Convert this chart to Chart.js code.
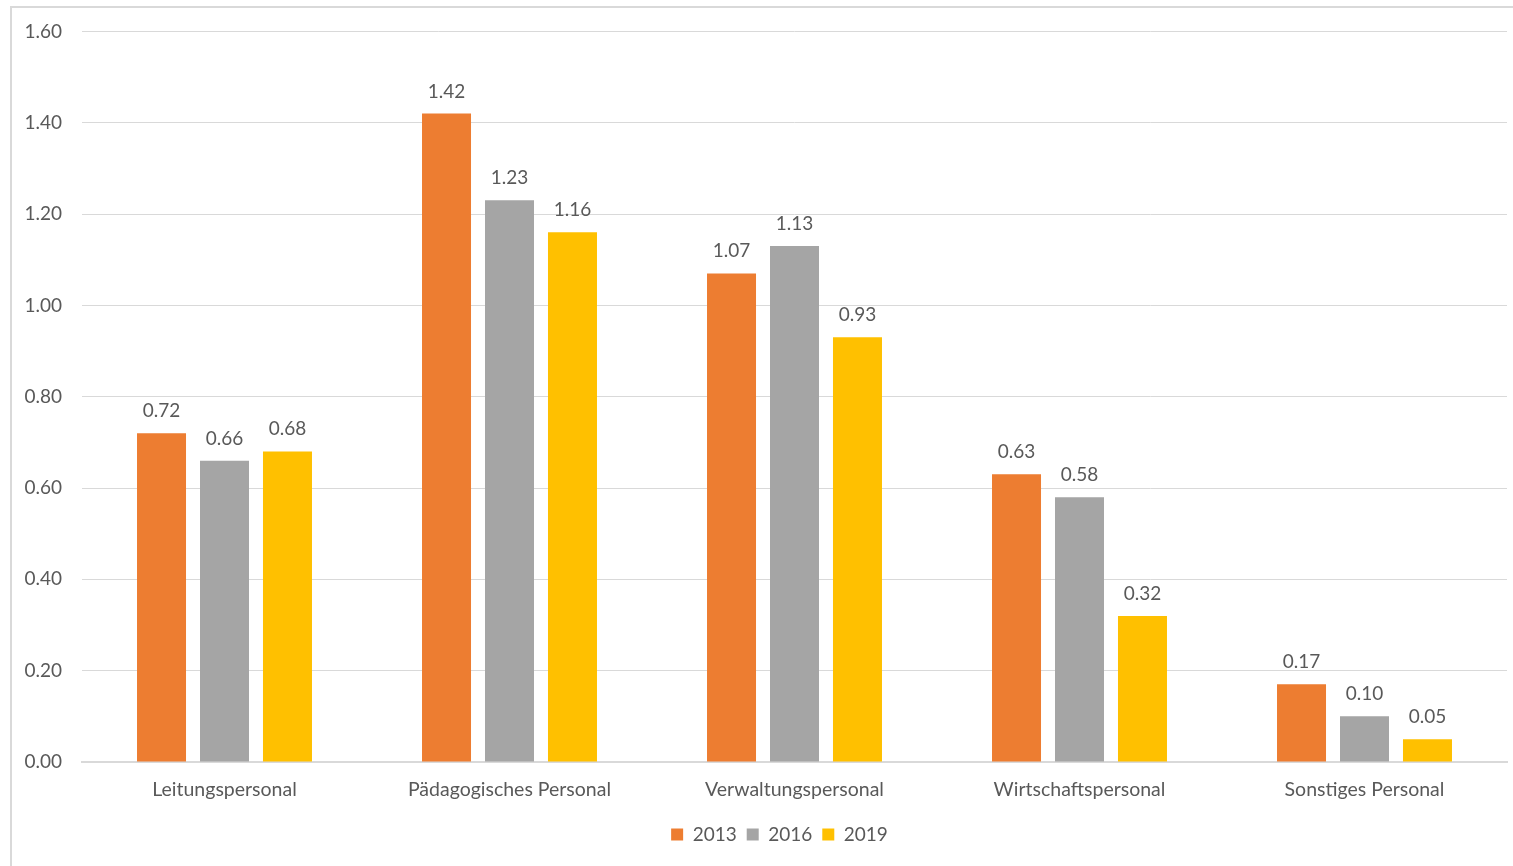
<!DOCTYPE html>
<html>
<head>
<meta charset="utf-8">
<script src="https://cdn.jsdelivr.net/npm/chart.js@4.4.1/dist/chart.umd.min.js"></script>
<style>
  html, body { margin: 0; padding: 0; background: #fff; overflow: hidden; }
  #frame {
    position: absolute; left: 10px; top: 6px;
    width: 1600px; height: 1000px;
    border: 2px solid #d9d9d9; box-sizing: border-box;
  }
  #wrap { position: absolute; left: 12px; top: 0px; width: 1560px; height: 854px; }
</style>
</head>
<body>
<div id="frame"></div>
<div id="wrap"><canvas id="chart"></canvas></div>
<script>
// Personalkategorien und Werte je Erhebungsjahr
const categories = ['Leitungspersonal', 'Pädagogisches Personal', 'Verwaltungspersonal', 'Wirtschaftspersonal', 'Sonstiges Personal'];
const years = ['2013', '2016', '2019'];
const values2013 = [0.72, 1.42, 1.07, 0.63, 0.17];
const values2016 = [0.66, 1.23, 1.13, 0.58, 0.10];
const values2019 = [0.68, 1.16, 0.93, 0.32, 0.05];
const yTicks = [0, 0.2, 0.4, 0.6, 0.8, 1.0, 1.2, 1.4, 1.6];

const colors = ['#ED7D31', '#A5A5A5', '#FFC000'];
const textColor = '#595959';
const gridColor = '#d9d9d9';
const fontFamily = 'Lato, "Noto Sans", sans-serif';

// Wertbeschriftung über jedem Balken
const valueLabels = {
  id: 'valueLabels',
  afterDatasetsDraw(chart) {
    const ctx = chart.ctx;
    ctx.save();
    ctx.font = '19px ' + fontFamily;
    ctx.fillStyle = textColor;
    ctx.textAlign = 'center';
    ctx.textBaseline = 'alphabetic';
    chart.data.datasets.forEach((ds, i) => {
      const meta = chart.getDatasetMeta(i);
      meta.data.forEach((bar, j) => {
        ctx.fillText(ds.data[j].toFixed(2), bar.x, bar.y - 16);
      });
    });
    ctx.restore();
  }
};

new Chart(document.getElementById('chart'), {
  type: 'bar',
  data: {
    labels: categories,
    datasets: [
      { label: years[0], data: values2013, backgroundColor: colors[0] },
      { label: years[1], data: values2016, backgroundColor: colors[1] },
      { label: years[2], data: values2019, backgroundColor: colors[2] }
    ]
  },
  options: {
    responsive: true,
    maintainAspectRatio: false,
    animation: false,
    datasets: { bar: { categoryPercentage: 0.663, barPercentage: 0.778 } },
    layout: { padding: { left: 0, right: 25, top: 16, bottom: 0 } },
    plugins: {
      legend: {
        position: 'bottom',
        labels: {
          boxWidth: 12, boxHeight: 12, padding: 10,
          color: textColor,
          font: { family: fontFamily, size: 19 }
        }
      },
      tooltip: { enabled: false }
    },
    scales: {
      x: {
        grid: { display: false, drawTicks: false },
        border: { display: true, color: gridColor, width: 2 },
        ticks: { color: textColor, padding: 16, font: { family: fontFamily, size: 19.5 }, maxRotation: 0 },
        afterFit(scale) { scale.height = 53; }
      },
      y: {
        min: 0, max: 1.6,
        afterBuildTicks(scale) { scale.ticks = yTicks.map(v => ({ value: v })); },
        grid: { color: gridColor, drawTicks: false },
        border: { display: false },
        ticks: {
          color: textColor, padding: 20,
          font: { family: fontFamily, size: 19 },
          callback: v => Number(v).toFixed(2)
        },
        afterFit(scale) { scale.width = 70; }
      },
      // leerer Randbereich rechts neben der Zeichenfläche
      yRight: {
        position: 'right',
        min: 0, max: 1.6,
        grid: { display: false, drawOnChartArea: false, drawTicks: false },
        border: { display: false },
        ticks: { display: false },
        afterFit(scale) { scale.width = 40; }
      }
    }
  },
  plugins: [valueLabels]
});
</script>
</body>
</html>
